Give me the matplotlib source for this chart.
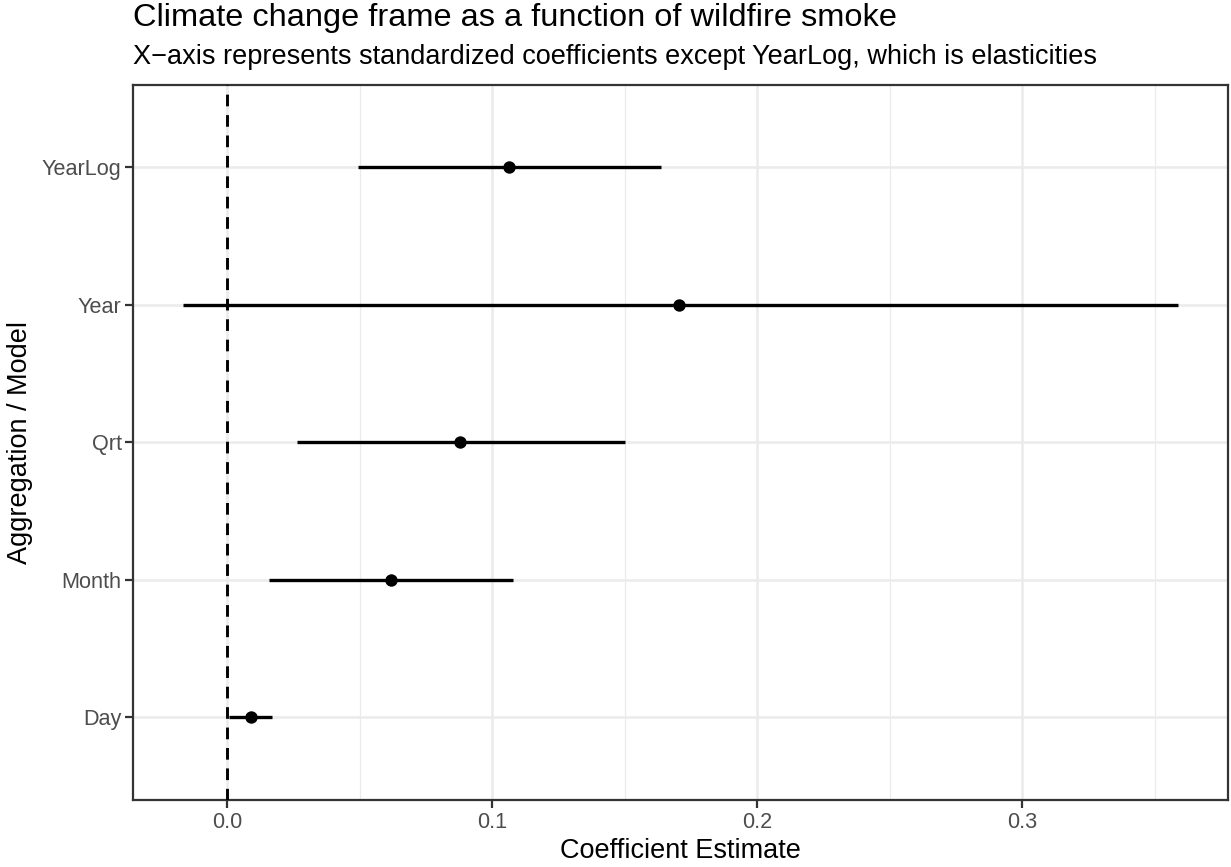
import matplotlib
matplotlib.use("Agg")
import matplotlib.pyplot as plt
from matplotlib.ticker import MultipleLocator

plt.rcParams["font.family"] = ["Liberation Sans", "DejaVu Sans"]

# coefficient estimates with confidence intervals, bottom to top
models = ["Day", "Month", "Qrt", "Year", "YearLog"]
estimate = [0.0089, 0.0619, 0.0879, 0.1703, 0.1063]
ci_low = [0.0008, 0.0158, 0.0262, -0.0167, 0.0494]
ci_high = [0.0168, 0.1078, 0.1502, 0.3587, 0.1637]

fig = plt.figure(figsize=(12.31, 8.67), dpi=100)
ax = fig.add_axes([0.1083, 0.0773, 0.889, 0.8247])

ypos = list(range(1, len(models) + 1))

ax.axvline(0, color="black", linestyle=(0, (4, 3)), linewidth=2.1, zorder=3)
ax.hlines(ypos, ci_low, ci_high, color="black", linewidth=2.4, zorder=4)
ax.scatter(estimate, ypos, s=80, color="black", zorder=5, linewidths=0)

# ggplot style 5% expansion around the data range
lo, hi = min(ci_low + [0]), max(ci_high)
pad = 0.05 * (hi - lo)
ax.set_xlim(lo - pad, hi + pad)
ax.set_ylim(0.4, 5.6)
ax.set_yticks(ypos)
ax.set_yticklabels(models)
ax.xaxis.set_minor_locator(MultipleLocator(0.05))
ax.set_xticks([0.0, 0.1, 0.2, 0.3])
ax.set_xticklabels(["0.0", "0.1", "0.2", "0.3"])

ax.grid(which="major", color="#ebebeb", linewidth=1.8, zorder=0)
ax.grid(which="minor", axis="x", color="#ebebeb", linewidth=0.9, zorder=0)
ax.set_axisbelow(True)

for sp in ax.spines.values():
    sp.set_color("#333333")
    sp.set_linewidth(1.6)

ax.tick_params(axis="both", which="major", length=5.5, width=1.6, color="#333333",
               labelcolor="#4d4d4d", labelsize=15.6, pad=3)
ax.tick_params(axis="x", which="minor", length=0)

ax.set_xlabel("Coefficient Estimate", fontsize=19.5, labelpad=4)
ax.set_ylabel("Aggregation / Model", fontsize=19.5, labelpad=6)

fig.text(0.1083, 0.970, "Climate change frame as a function of wildfire smoke",
         fontsize=23.4, ha="left", va="baseline")
fig.text(0.1083, 0.926, "X\u2212axis represents standardized coefficients except YearLog, which is elasticities",
         fontsize=19.5, ha="left", va="baseline")

plt.savefig("out.png", dpi=100)
